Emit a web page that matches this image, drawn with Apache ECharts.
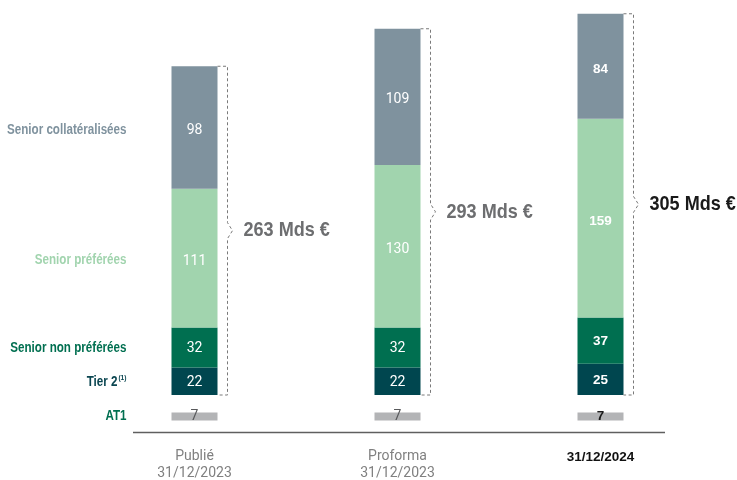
<!DOCTYPE html>
<html>
<head>
<meta charset="utf-8">
<script src="https://cdn.jsdelivr.net/npm/echarts@6/dist/echarts.min.js"></script>
<style>
html,body{margin:0;padding:0;background:#fff;}
#chart{width:737px;height:480px;}
</style>
</head>
<body>
<div id="chart"></div>
<script>
// ---- data ----
const categories = ['Publié\n31/12/2023', 'Proforma\n31/12/2023', '31/12/2024'];
const seriesNames = ['Tier 2', 'Senior non préférées', 'Senior préférées', 'Senior collatéralisées'];
const tier2 = [22, 22, 25];
const seniorNonPref = [32, 32, 37];
const seniorPref = [111, 130, 159];
const seniorColl = [98, 109, 84];
const at1 = [7, 7, 7];
const totalLabels = ['263 Mds €', '293 Mds €', '305 Mds €'];

// ---- styles ----
const colors = ['#00464f', '#006f50', '#a1d4ae', '#7f929e'];
const nameColors = ['#0a4550', '#006f50', '#a1d4ae', '#7f929e'];
const BOLDF = '"Liberation Sans", Arial, sans-serif';
const REG = 'Roboto, "Liberation Sans", sans-serif';
const BAR_W = 46;
const HL = 2; // highlighted (last) category
const NAME_GAP = 45;
const CONDENSE = 0.83;

const stacks = [tier2, seniorNonPref, seniorPref, seniorColl];
const totals = categories.map((c, i) => stacks.reduce((s, a) => s + a[i], 0));

function valueData(arr, regColor, boldColor) {
  return arr.map((v, i) => ({
    value: v,
    label: i === HL
      ? { fontFamily: BOLDF, fontWeight: 'bold', fontSize: 13.5, color: boldColor }
      : { fontFamily: REG, fontWeight: 'normal', fontSize: 14, color: regColor }
  }));
}

const series = [];
stacks.forEach((arr, k) => {
  series.push({
    name: seriesNames[k],
    type: 'bar',
    stack: 'main',
    xAxisIndex: 0, yAxisIndex: 0,
    barWidth: BAR_W,
    itemStyle: { color: colors[k] },
    label: { show: true, position: 'inside', offset: [0, k >= 2 ? 3 : 1] },
    data: valueData(arr, '#ffffff', '#ffffff'),
    silent: true
  });
});

function condensedText(x, y, text, fill, size, align) {
  return {
    type: 'text', x: x, y: y, scaleX: CONDENSE,
    style: { x: 0, y: 0, text: text, fill: fill, font: 'bold ' + size + 'px ' + BOLDF, align: align, verticalAlign: 'middle' }
  };
}

// left-hand names, anchored on the first bar's segments
let cum = 0;
const nameData = stacks.map((arr, k) => { const m = cum + arr[0] / 2; cum += arr[0]; return [0, m, k]; });
series.push({
  type: 'custom',
  xAxisIndex: 0, yAxisIndex: 0,
  silent: true,
  data: nameData,
  renderItem: function (params, api) {
    const k = api.value(2);
    const p = api.coord([api.value(0), api.value(1)]);
    const xr = p[0] - BAR_W / 2 - NAME_GAP;
    const y = p[1] + (k >= 2 ? 2.5 : 1);
    if (k === 0) {
      return { type: 'group', children: [
        condensedText(xr, y - 4, '(1)', nameColors[k], 8, 'right'),
        condensedText(xr - 9, y, seriesNames[k], nameColors[k], 14, 'right')
      ] };
    }
    return condensedText(xr, y, seriesNames[k], nameColors[k], 14, 'right');
  }
});

// brackets + totals
series.push({
  type: 'custom',
  xAxisIndex: 0, yAxisIndex: 0,
  silent: true,
  z: 5,
  data: totals.map((t, i) => [i, t]),
  renderItem: function (params, api) {
    const i = api.value(0);
    const top = api.coord([i, api.value(1)]);
    const bot = api.coord([i, 0]);
    const xb = top[0] + BAR_W / 2;
    const xv = xb + 10;
    const mid = (top[1] + bot[1]) / 2;
    const pts = [[xb, top[1]], [xv, top[1]], [xv, mid - 8], [xv + 5, mid], [xv, mid + 8], [xv, bot[1]], [xb, bot[1]]];
    const t = condensedText(xv + 16, mid, totalLabels[i], i === HL ? '#1a1a1a' : '#6d6e70', 21, 'left');
    t.scaleX = 0.86;
    return {
      type: 'group',
      children: [
        { type: 'polyline', shape: { points: pts }, style: { stroke: '#7a7a7a', lineWidth: 1, lineDash: [3, 2.5], fill: null } },
        t
      ]
    };
  }
});
// AT1 bars
series.push({
  name: 'AT1',
  type: 'bar',
  xAxisIndex: 1, yAxisIndex: 1,
  barWidth: BAR_W,
  itemStyle: { color: '#b3b4b6' },
  label: { show: true, position: 'inside' },
  data: valueData(at1, '#58595b', '#1a1a1a'),
  silent: true
});
series.push({
  type: 'custom',
  xAxisIndex: 1, yAxisIndex: 1,
  silent: true,
  data: [[0, at1[0] / 2]],
  renderItem: function (params, api) {
    const p = api.coord([api.value(0), api.value(1)]);
    return condensedText(p[0] - BAR_W / 2 - NAME_GAP, p[1], 'AT1', '#006f50', 14, 'right');
  }
});

const chart = echarts.init(document.getElementById('chart'), null, { renderer: 'canvas' });
chart.setOption({
  animation: false,
  backgroundColor: '#ffffff',
  grid: [
    { left: 93, width: 609, top: 7.5, height: 387.5 },
    { left: 93, width: 609, top: 402, height: 20 }
  ],
  xAxis: [
    { gridIndex: 0, type: 'category', data: categories, show: false },
    { gridIndex: 1, type: 'category', data: categories,
      axisLine: { show: false }, axisTick: { show: false },
      axisLabel: {
        margin: 27,
        formatter: (v, i) => i === HL ? '{b|' + v + '}' : v.split('\n').map(s => '{n|' + s + '}').join('\n'),
        rich: {
          n: { fontFamily: REG, fontSize: 14, color: '#808080', lineHeight: 17 },
          b: { fontFamily: BOLDF, fontWeight: 'bold', fontSize: 13.5, color: '#111111', lineHeight: 17, padding: [2, 0, 0, 0] }
        }
      }
    }
  ],
  yAxis: [
    { gridIndex: 0, type: 'value', min: 0, max: 310, show: false, splitLine: { show: false } },
    { gridIndex: 1, type: 'value', min: 0, max: 16, show: false, splitLine: { show: false } }
  ],
  graphic: [
    { type: 'line', shape: { x1: 133, y1: 432.5, x2: 665, y2: 432.5 }, style: { stroke: '#5f5f5f', lineWidth: 1.5 }, silent: true }
  ],
  series: series
});
</script>
</body>
</html>
